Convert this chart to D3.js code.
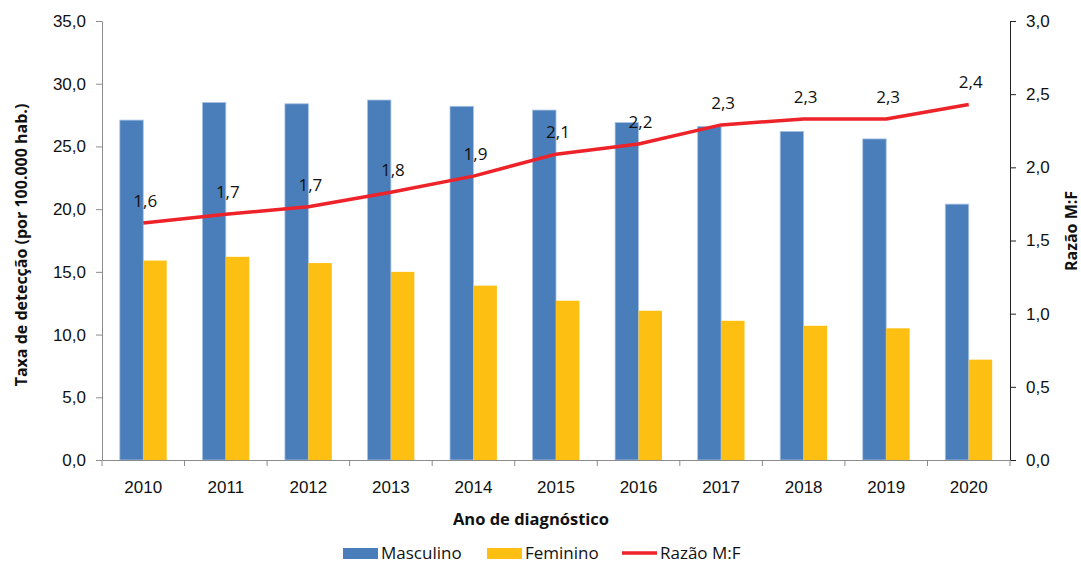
<!DOCTYPE html>
<html>
<head>
<meta charset="utf-8">
<script src="https://cdn.jsdelivr.net/npm/d3@7"></script>
<style>
    body { margin: 0; background: #fff; }
    svg { display: block; font-family: "Open Sans", sans-serif; }
</style>
</head>
<body>
<div id="chart"></div>
<script>
// Data
var years = ["2010", "2011", "2012", "2013", "2014", "2015", "2016", "2017", "2018", "2019", "2020"];
var masculino = [27.1, 28.5, 28.4, 28.7, 28.2, 27.9, 26.9, 26.6, 26.2, 25.6, 20.4];
var feminino = [15.9, 16.2, 15.7, 15.0, 13.9, 12.7, 11.9, 11.1, 10.7, 10.5, 8.0];
var razao = [1.62, 1.68, 1.73, 1.83, 1.94, 2.09, 2.16, 2.29, 2.33, 2.33, 2.43];
var leftTicks = [0, 5, 10, 15, 20, 25, 30, 35];
var rightTicks = [0, 0.5, 1, 1.5, 2, 2.5, 3];
var series = ["Masculino", "Feminino"];

var width = 1081, height = 563;
var margin = { top: 21, right: 71, bottom: 103, left: 102 };

var blue = "#4a7ebb", yellow = "#fdc012", red = "#ee2229";
var comma = function(d) { return d3.format(".1f")(d).replace(".", ","); };

var svg = d3.select("#chart").append("svg")
    .attr("width", width)
    .attr("height", height);

// Scales
var x = d3.scaleBand()
    .domain(years)
    .range([margin.left, width - margin.right])
    .padding(0);
var xs = d3.scaleBand()
    .domain(series)
    .range([0, x.bandwidth()])
    .paddingInner(0)
    .paddingOuter(0.76);
var y = d3.scaleLinear().domain([0, 35]).range([height - margin.bottom, margin.top]);
var y2 = d3.scaleLinear().domain([0, 3]).range([height - margin.bottom, margin.top]);

var baseY = height - margin.bottom;

// Bars
var groups = svg.append("g").selectAll("g")
    .data(years)
    .join("g")
    .attr("transform", function(d) { return "translate(" + x(d) + ",0)"; });

groups.append("rect")
    .attr("x", xs("Masculino"))
    .attr("y", function(d, i) { return y(masculino[i]); })
    .attr("width", xs.bandwidth())
    .attr("height", function(d, i) { return baseY - y(masculino[i]); })
    .attr("fill", blue)
    .attr("stroke", "#a9c3e6")
    .attr("stroke-width", 0.8);

groups.append("rect")
    .attr("x", xs("Feminino"))
    .attr("y", function(d, i) { return y(feminino[i]); })
    .attr("width", xs.bandwidth())
    .attr("height", function(d, i) { return baseY - y(feminino[i]); })
    .attr("fill", yellow);

// Left axis
var yAxis = d3.axisLeft(y).tickValues(leftTicks).tickFormat(comma).tickSize(6).tickSizeOuter(0);
var yG = svg.append("g")
    .attr("transform", "translate(" + margin.left + ",0)")
    .call(yAxis);
yG.selectAll("line, path").attr("stroke", "#8c8c8c");
yG.selectAll("text").attr("font-size", 17).attr("fill", "#111").attr("dx", -7);

// Right axis
var y2Axis = d3.axisRight(y2).tickValues(rightTicks).tickFormat(comma).tickSize(6).tickSizeOuter(0);
var y2G = svg.append("g")
    .attr("transform", "translate(" + (width - margin.right) + ",0)")
    .call(y2Axis);
y2G.selectAll("line, path").attr("stroke", "#222");
y2G.selectAll("text").attr("font-size", 17).attr("fill", "#111").attr("dx", 7);

// Bottom axis: labels at centres, ticks at band edges
var xAxis = d3.axisBottom(x).tickSize(0).tickSizeOuter(0);
var xG = svg.append("g")
    .attr("transform", "translate(0," + baseY + ")")
    .call(xAxis);
xG.select("path").attr("stroke", "#8c8c8c");
xG.selectAll("text").attr("font-size", 17).attr("fill", "#111").attr("y", 33).attr("dy", null);

var edges = years.map(function(d) { return x(d); }).concat([x.range()[1]]);
svg.append("g").selectAll("line")
    .data(edges)
    .join("line")
    .attr("x1", function(d) { return d; })
    .attr("x2", function(d) { return d; })
    .attr("y1", baseY)
    .attr("y2", baseY + 6)
    .attr("stroke", "#8c8c8c");

// Ratio line
var line = d3.line()
    .x(function(d, i) { return x(years[i]) + x.bandwidth() / 2; })
    .y(function(d) { return y2(d); });

svg.append("path")
    .datum(razao)
    .attr("d", line)
    .attr("fill", "none")
    .attr("stroke", red)
    .attr("stroke-width", 3.5)
    .attr("stroke-linejoin", "round");

svg.append("g").selectAll("text")
    .data(razao)
    .join("text")
    .attr("x", function(d, i) { return x(years[i]) + x.bandwidth() / 2 + 2; })
    .attr("y", function(d) { return y2(d) - 16; })
    .attr("text-anchor", "middle")
    .attr("font-size", 17)
    .attr("fill", "#111")
    .text(function(d) { return d3.format(".1f")(d).replace(".", ","); });

// Axis titles
svg.append("text")
    .attr("x", (margin.left + width - margin.right) / 2 - 25)
    .attr("y", 525)
    .attr("text-anchor", "middle")
    .attr("font-size", 16.5)
    .attr("font-weight", "bold")
    .attr("fill", "#111")
    .text("Ano de diagnóstico");

svg.append("text")
    .attr("transform", "translate(27,245) rotate(-90)")
    .attr("text-anchor", "middle")
    .attr("font-size", 16)
    .attr("font-weight", "bold")
    .attr("fill", "#111")
    .text("Taxa de detecção (por 100.000 hab.)");

svg.append("text")
    .attr("transform", "translate(1077,231) rotate(-90)")
    .attr("text-anchor", "middle")
    .attr("font-size", 16)
    .attr("font-weight", "bold")
    .attr("fill", "#111")
    .text("Razão M:F");

// Legend
var legendItems = [
    { label: "Masculino", color: blue, type: "rect", x: 343 },
    { label: "Feminino", color: yellow, type: "rect", x: 487 },
    { label: "Razão M:F", color: red, type: "line", x: 622 }
];
var legend = svg.append("g").selectAll("g")
    .data(legendItems)
    .join("g")
    .attr("transform", function(d) { return "translate(" + d.x + ",553)"; });

legend.filter(function(d) { return d.type === "rect"; })
    .append("rect")
    .attr("x", 0)
    .attr("y", -5)
    .attr("width", 35)
    .attr("height", 11)
    .attr("fill", function(d) { return d.color; });

legend.filter(function(d) { return d.type === "line"; })
    .append("line")
    .attr("x1", 0)
    .attr("x2", 35)
    .attr("y1", 0)
    .attr("y2", 0)
    .attr("stroke", function(d) { return d.color; })
    .attr("stroke-width", 3.5);

legend.append("text")
    .attr("x", 38)
    .attr("y", 0)
    .attr("dy", "0.35em")
    .attr("font-size", 17)
    .attr("fill", "#111")
    .text(function(d) { return d.label; });
</script>
</body>
</html>
